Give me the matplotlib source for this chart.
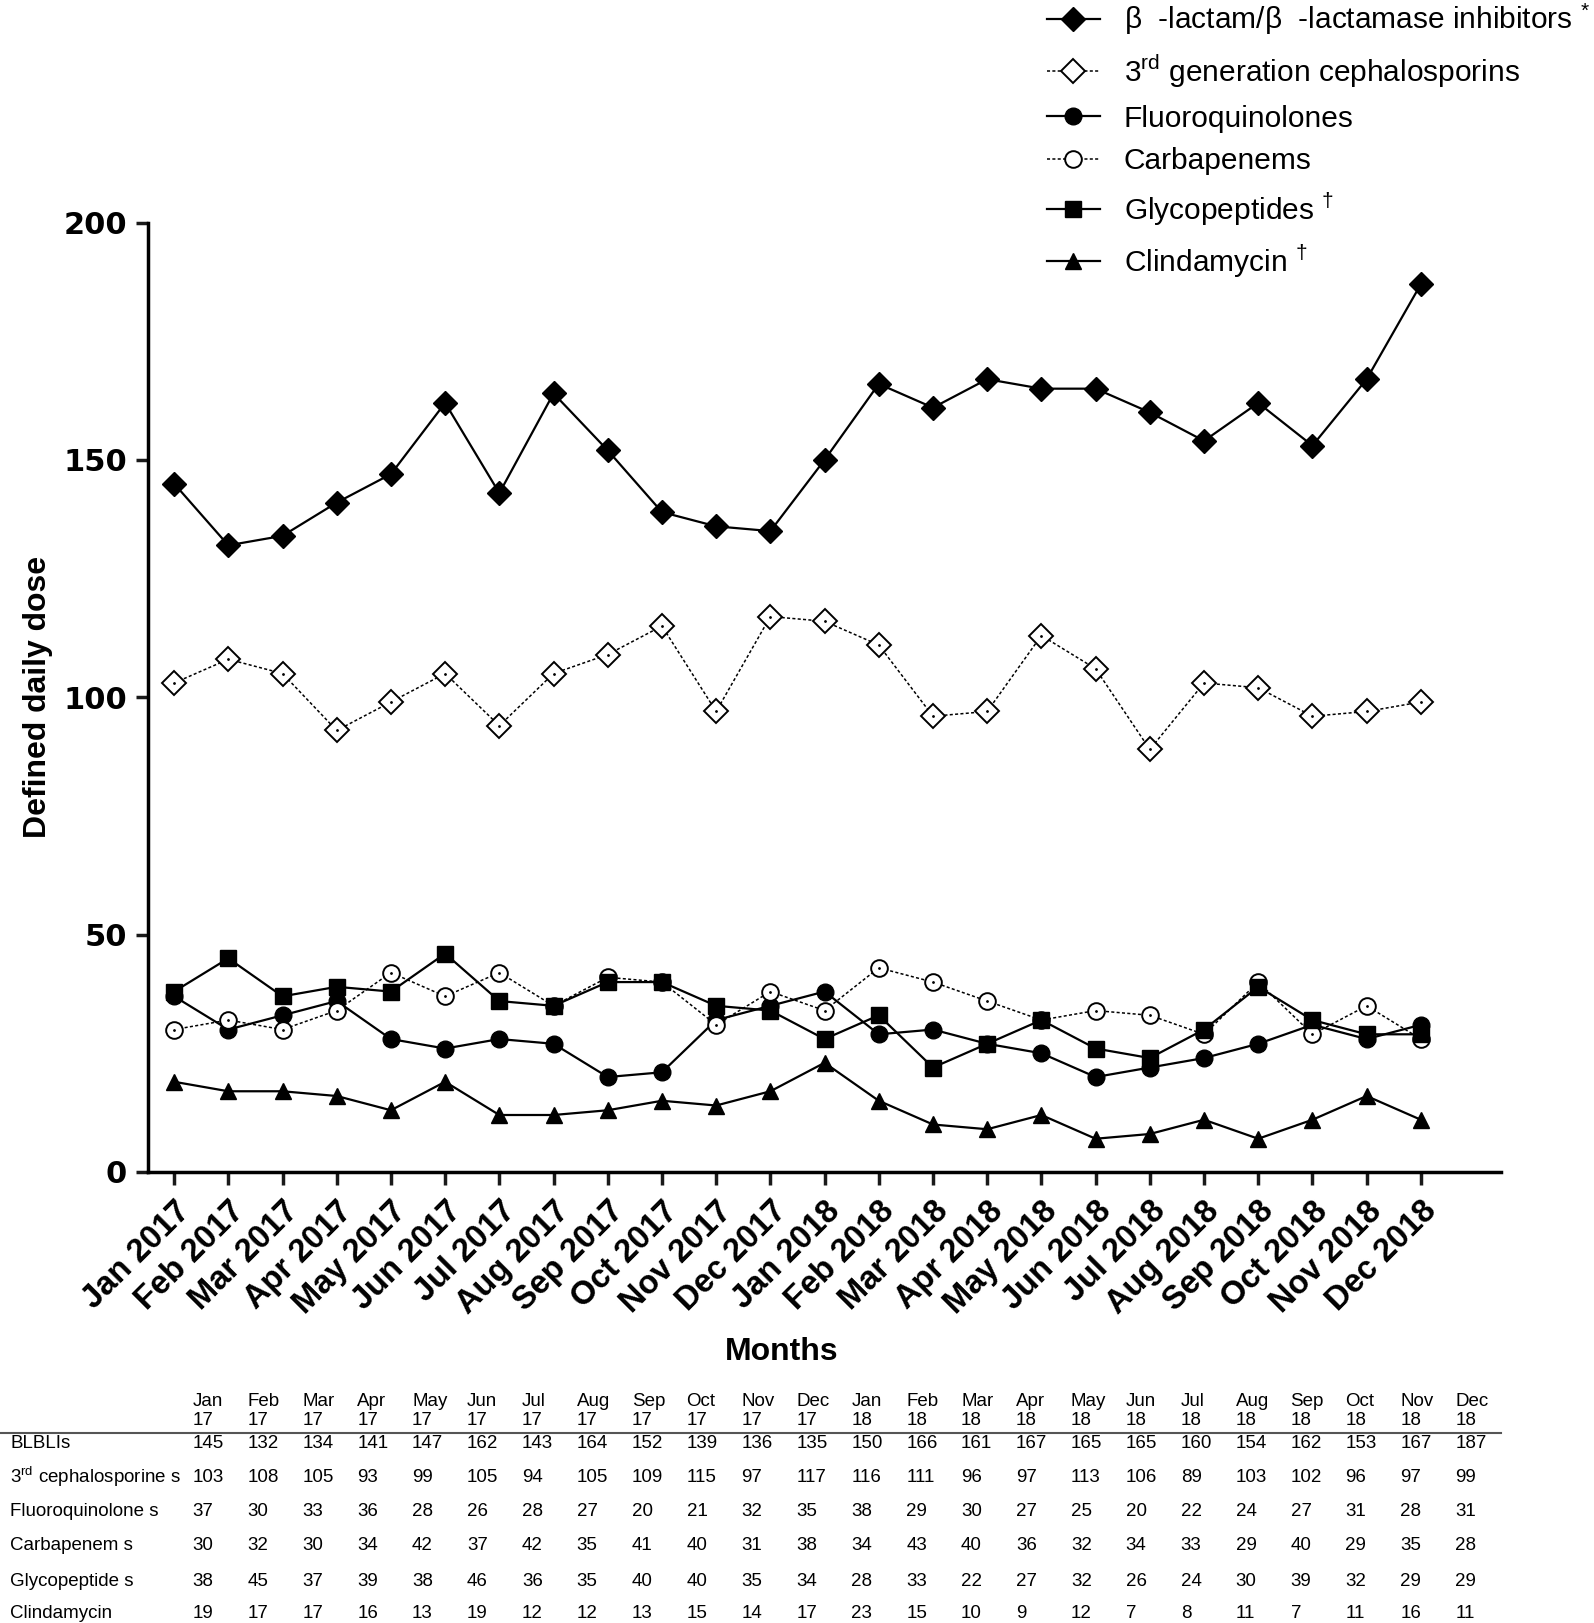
import matplotlib
matplotlib.use('Agg')
import matplotlib.pyplot as plt

# data
months = ['Jan 2017', 'Feb 2017', 'Mar 2017', 'Apr 2017', 'May 2017', 'Jun 2017',
          'Jul 2017', 'Aug 2017', 'Sep 2017', 'Oct 2017', 'Nov 2017', 'Dec 2017',
          'Jan 2018', 'Feb 2018', 'Mar 2018', 'Apr 2018', 'May 2018', 'Jun 2018',
          'Jul 2018', 'Aug 2018', 'Sep 2018', 'Oct 2018', 'Nov 2018', 'Dec 2018']
blbli = [145, 132, 134, 141, 147, 162, 143, 164, 152, 139, 136, 135,
         150, 166, 161, 167, 165, 165, 160, 154, 162, 153, 167, 187]
ceph3 = [103, 108, 105, 93, 99, 105, 94, 105, 109, 115, 97, 117,
         116, 111, 96, 97, 113, 106, 89, 103, 102, 96, 97, 99]
fluoro = [37, 30, 33, 36, 28, 26, 28, 27, 20, 21, 32, 35,
          38, 29, 30, 27, 25, 20, 22, 24, 27, 31, 28, 31]
carba = [30, 32, 30, 34, 42, 37, 42, 35, 41, 40, 31, 38,
         34, 43, 40, 36, 32, 34, 33, 29, 40, 29, 35, 28]
glyco = [38, 45, 37, 39, 38, 46, 36, 35, 40, 40, 35, 34,
         28, 33, 22, 27, 32, 26, 24, 30, 39, 32, 29, 29]
clinda = [19, 17, 17, 16, 13, 19, 12, 12, 13, 15, 14, 17,
          23, 15, 10, 9, 12, 7, 8, 11, 7, 11, 16, 11]

legend_labels = [r'β  -lactam/β  -lactamase inhibitors $^{*}$',
                 r'3$^{\rm rd}$ generation cephalosporins',
                 'Fluoroquinolones',
                 'Carbapenems',
                 r'Glycopeptides $^{\dagger}$',
                 r'Clindamycin $^{\dagger}$']
table_rows = ['BLBLIs', r'3$^{\rm rd}$ cephalosporine s', 'Fluoroquinolone s',
              'Carbapenem s', 'Glycopeptide s', 'Clindamycin']
table_cols = [m[:3] + '\n' + m[-2:] for m in months]

plt.rcParams['font.family'] = ['Liberation Sans', 'DejaVu Sans']
plt.rcParams['mathtext.fontset'] = 'custom'
plt.rcParams['mathtext.rm'] = 'Liberation Sans'

fig = plt.figure(figsize=(15.94, 16.23), dpi=100)
ax = fig.add_axes([0.0929, 0.2779, 0.8488, 0.585])

x = list(range(len(months)))
lw = 1.6
l1, = ax.plot(x, blbli, '-', color='black', lw=lw, marker='D', ms=12, mfc='black', mec='black')
l2, = ax.plot(x, ceph3, linestyle=(0, (2, 1.5)), color='black', lw=1.1, marker='D', ms=12,
              mfc='white', mec='black', mew=1.4)
l3, = ax.plot(x, fluoro, '-', color='black', lw=lw, marker='o', ms=12, mfc='black', mec='black')
l4, = ax.plot(x, carba, linestyle=(0, (2, 1.5)), color='black', lw=1.1, marker='o', ms=12,
              mfc='white', mec='black', mew=1.4)
l5, = ax.plot(x, glyco, '-', color='black', lw=lw, marker='s', ms=11, mfc='black', mec='black')
l6, = ax.plot(x, clinda, '-', color='black', lw=lw, marker='^', ms=12, mfc='black', mec='black')
# small centre dots on the open markers
ax.plot(x, ceph3, linestyle='none', marker='.', ms=2, color='black')
ax.plot(x, carba, linestyle='none', marker='.', ms=2, color='black')

ax.set_xlim(-0.48, 24.48)
ax.set_ylim(0, 200)
ax.set_yticks([0, 50, 100, 150, 200])
ax.set_xticks(x)
ax.set_xticklabels(months, rotation=45, ha='right', va='top', rotation_mode='anchor',
                   fontsize=23.5, fontweight='bold')
for t in ax.get_yticklabels():
    t.set_fontsize(22)
    t.set_fontweight('heavy')
    t.set_family('DejaVu Sans')
ax.spines['top'].set_visible(False)
ax.spines['right'].set_visible(False)
ax.spines['left'].set_linewidth(2.5)
ax.spines['bottom'].set_linewidth(2.5)
ax.tick_params(axis='both', direction='out', length=9, width=2.5, color='#1a1a1a')
ax.tick_params(axis='y', pad=6)
ax.tick_params(axis='x', pad=8)

ax.set_ylabel('Defined daily dose', fontsize=23, fontweight='bold')
ax.yaxis.set_label_coords(-0.07, 0.5)
ax.set_xlabel('Months', fontsize=23, fontweight='bold')
ax.xaxis.set_label_coords(0.4686, -0.174)

fig.legend([l1, l2, l3, l4, l5, l6], legend_labels, loc='upper left',
           bbox_to_anchor=(0.6556, 1.0), frameon=False, fontsize=21.5,
           handlelength=1.8, handletextpad=0.78, labelspacing=0.5,
           borderpad=0.05, borderaxespad=0)

# table under the chart
W, H = 1594.0, 1623.0
col_x0, col_dx = 192.5, 54.9
row_ys = [1444, 1477, 1511, 1546, 1581, 1613]
series = [blbli, ceph3, fluoro, carba, glyco, clinda]
fs = 13.5
for j, lab in enumerate(table_cols):
    fig.text((col_x0 + j * col_dx) / W, 1 - 1411 / H, lab, fontsize=fs,
             ha='left', va='center', linespacing=1.12)
fig.add_artist(plt.Line2D([0, 1501 / W], [1 - 1433 / H, 1 - 1433 / H],
                          color='#555555', lw=1.5))
for r, (name, vals) in enumerate(zip(table_rows, series)):
    y = 1 - row_ys[r] / H
    fig.text(10 / W, y, name, fontsize=fs, ha='left', va='center')
    for j, v in enumerate(vals):
        fig.text((col_x0 + j * col_dx) / W, y, str(v), fontsize=fs, ha='left', va='center')

fig.savefig('out.png', dpi=100)
